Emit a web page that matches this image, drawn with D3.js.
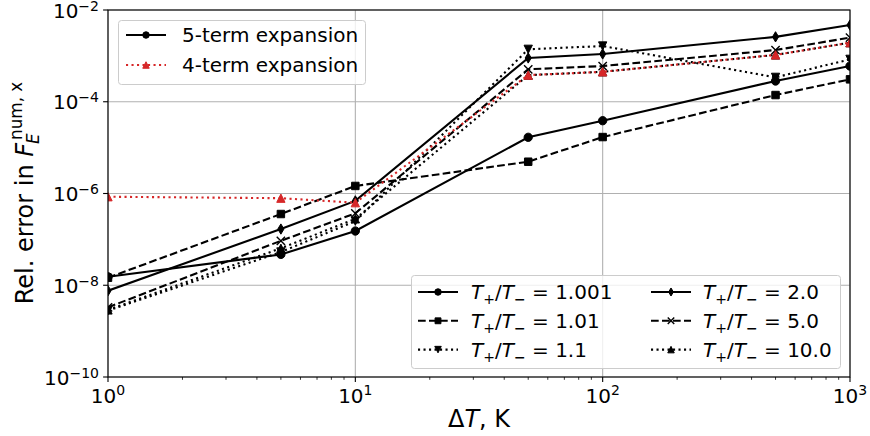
<!DOCTYPE html>
<html>
<head>
<meta charset="utf-8">
<script src="https://cdn.jsdelivr.net/npm/d3@7"></script>
<style>
  html, body { margin: 0; padding: 0; background: #fff; }
  svg { display: block; font-family: "DejaVu Sans", sans-serif; }
</style>
</head>
<body>
<svg id="chart" width="870" height="436"></svg>
<script>
// ---- data ----
const dT = [1, 5, 10, 50, 100, 500, 1000];
const ratioLabels = ["1.001", "1.01", "1.1", "2.0", "5.0", "10.0"];
const err_1001 = [1.53e-8, 4.7e-8, 1.52e-7, 1.68e-5, 3.86e-5, 2.83e-4, 6.0e-4];
const err_101  = [1.46e-8, 3.57e-7, 1.46e-6, 4.93e-6, 1.7e-5, 1.4e-4, 3.08e-4];
const err_11   = [2.8e-9, 5.3e-8, 2.5e-7, 1.39e-3, 1.64e-3, 3.4e-4, 8.4e-4];
const err_2    = [7.6e-9, 1.68e-7, 6.9e-7, 9.0e-4, 1.1e-3, 2.6e-3, 4.7e-3];
const err_5    = [3.3e-9, 9.3e-8, 3.7e-7, 5.1e-4, 6.0e-4, 1.34e-3, 2.5e-3];
const err_10   = [2.9e-9, 6.4e-8, 2.8e-7, 3.8e-4, 4.5e-4, 1.05e-3, 1.94e-3];
const err_4term = [8.5e-7, 7.9e-7, 6.3e-7, 3.8e-4, 4.5e-4, 1.05e-3, 1.94e-3];
const xTickExps = [0, 1, 2, 3];
const yTickExps = [-2, -4, -6, -8, -10];

const series = [
  {label: ratioLabels[0], values: err_1001, dash: null, marker: "o"},
  {label: ratioLabels[1], values: err_101, dash: "dashed", marker: "s"},
  {label: ratioLabels[2], values: err_11, dash: "dotted", marker: "v"},
  {label: ratioLabels[3], values: err_2, dash: null, marker: "d"},
  {label: ratioLabels[4], values: err_5, dash: "dashed", marker: "x"},
  {label: ratioLabels[5], values: err_10, dash: "dotted", marker: "^"}
];
const red = "#d62728";

// ---- layout ----
const L = 108, R = 850, T = 10, B = 377;
const svg = d3.select("#chart");
const x = d3.scaleLog().domain([1, 1000]).range([L, R]);
const y = d3.scaleLog().domain([1e-10, 1e-2]).range([B, T]);

const dashMap = {dashed: "7.7,3.3", dotted: "2.1,3.4"};

function markerPath(type, s) {
  const h = s / 2;
  switch (type) {
    case "o": return d3.symbol(d3.symbolCircle, Math.PI * h * h)();
    case "s": { const a = s * 0.45; return `M${-a},${-a}H${a}V${a}H${-a}Z`; }
    case "^": return `M0,${-h}L${h},${h}L${-h},${h}Z`;
    case "v": return `M0,${h}L${h},${-h}L${-h},${-h}Z`;
    case "d": { const hh = s * 0.62, ww = s * 0.37; return `M0,${-hh}L${ww},0L0,${hh}L${-ww},0Z`; }
    case "x": return `M${-h},${-h}L${h},${h}M${-h},${h}L${h},${-h}`;
  }
}
function drawMarker(g, type, cx, cy, s, color) {
  g.append("path")
    .attr("d", markerPath(type, s))
    .attr("transform", `translate(${cx},${cy})`)
    .attr("fill", type === "x" ? "none" : color)
    .attr("stroke", color)
    .attr("stroke-width", type === "x" ? 1.4 : 1);
}

// clip
svg.append("defs").append("clipPath").attr("id", "clip")
  .append("rect").attr("x", L).attr("y", T).attr("width", R - L).attr("height", B - T);

// grid
const grid = svg.append("g");
xTickExps.forEach(e => {
  grid.append("line").attr("x1", x(10 ** e)).attr("x2", x(10 ** e)).attr("y1", T).attr("y2", B)
    .attr("stroke", "#b0b0b0").attr("stroke-width", 1.1);
});
yTickExps.forEach(e => {
  grid.append("line").attr("y1", y(10 ** e)).attr("y2", y(10 ** e)).attr("x1", L).attr("x2", R)
    .attr("stroke", "#b0b0b0").attr("stroke-width", 1.1);
});

// lines
const plot = svg.append("g").attr("clip-path", "url(#clip)");
const line = d3.line().x((d, i) => x(dT[i])).y(d => y(d));
function drawSeries(vals, color, dash, marker) {
  plot.append("path").datum(vals).attr("d", line)
    .attr("fill", "none").attr("stroke", color).attr("stroke-width", 2.1)
    .attr("stroke-dasharray", dash ? dashMap[dash] : null);
  vals.forEach((v, i) => drawMarker(plot, marker, x(dT[i]), y(v), 8.3, color));
}
series.forEach(s => drawSeries(s.values, "#000", s.dash, s.marker));
drawSeries(err_4term, red, "dotted", "^");

// axes
const axG = svg.append("g");
axG.append("rect").attr("x", L).attr("y", T).attr("width", R - L).attr("height", B - T)
  .attr("fill", "none").attr("stroke", "#000").attr("stroke-width", 1.1);
// x ticks
const minors = [];
for (let e = 0; e < 3; e++) for (let k = 2; k <= 9; k++) minors.push(k * 10 ** e);
minors.forEach(v => axG.append("line").attr("x1", x(v)).attr("x2", x(v)).attr("y1", B).attr("y2", B + 2.8)
  .attr("stroke", "#000").attr("stroke-width", 0.8));
xTickExps.forEach(e => {
  const px = x(10 ** e);
  axG.append("line").attr("x1", px).attr("x2", px).attr("y1", B).attr("y2", B + 4.9)
    .attr("stroke", "#000").attr("stroke-width", 1.1);
  const t = axG.append("text").attr("x", px).attr("y", 403).attr("text-anchor", "middle")
    .attr("font-size", 20).attr("fill", "#000");
  t.append("tspan").text("10");
  t.append("tspan").attr("font-size", 14).attr("dy", -8).text(String(e));
});
yTickExps.forEach(e => {
  const py = y(10 ** e);
  axG.append("line").attr("x1", L - 4.9).attr("x2", L).attr("y1", py).attr("y2", py)
    .attr("stroke", "#000").attr("stroke-width", 1.1);
  const t = axG.append("text").attr("x", 99).attr("y", py + 7.5).attr("text-anchor", "end")
    .attr("font-size", 20).attr("fill", "#000");
  t.append("tspan").text("10");
  t.append("tspan").attr("font-size", 14).attr("dy", -7).text("\u2212" + Math.abs(e));
});

// x label
const xl = svg.append("text").attr("x", (L + R) / 2).attr("y", 427).attr("text-anchor", "middle")
  .attr("font-size", 24).attr("fill", "#000");
xl.append("tspan").text("\u0394");
xl.append("tspan").attr("font-style", "italic").text("T");
xl.append("tspan").text(", K");

// y label (rotated)
const yl = svg.append("g").attr("transform", `translate(33,${(T + B) / 2}) rotate(-90)`);
const ylMain = yl.append("text").attr("font-size", 24).attr("fill", "#000");
ylMain.append("tspan").text("Rel. error in ");
ylMain.append("tspan").attr("font-style", "italic").text("F");
const wMain = ylMain.node().getComputedTextLength();
const ylSup = yl.append("text").attr("font-size", 16.8).attr("fill", "#000").text("num, x");
const ylSub = yl.append("text").attr("font-size", 16.8).attr("font-style", "italic").attr("fill", "#000").text("E");
const wSup = ylSup.node().getComputedTextLength();
const total = wMain + 2 + wSup;
const x0 = -total / 2;
ylMain.attr("x", x0).attr("y", 0);
ylSup.attr("x", x0 + wMain + 3).attr("y", -11);
ylSub.attr("x", x0 + wMain - 1).attr("y", 6);

// legends
function legendFrame(x0, y0, w, h) {
  svg.append("rect").attr("x", x0).attr("y", y0).attr("width", w).attr("height", h)
    .attr("rx", 3).attr("fill", "#fff").attr("fill-opacity", 0.8)
    .attr("stroke", "#cccccc").attr("stroke-width", 1);
}
function legendHandle(hx, hy, color, dash, marker) {
  const g = svg.append("g");
  g.append("line").attr("x1", hx).attr("x2", hx + 40).attr("y1", hy).attr("y2", hy)
    .attr("stroke", color).attr("stroke-width", 2.1)
    .attr("stroke-dasharray", dash ? dashMap[dash] : null);
  drawMarker(g, marker, hx + 20, hy, 6.5, color);
}

// legend 1
legendFrame(118.5, 20.5, 247, 64);
legendHandle(126, 35, "#000", null, "o");
svg.append("text").attr("x", 182).attr("y", 42).attr("font-size", 20).attr("fill", "#000").text("5-term expansion");
legendHandle(126, 65, red, "dotted", "^");
svg.append("text").attr("x", 182).attr("y", 72).attr("font-size", 20).attr("fill", "#000").text("4-term expansion");

// legend 2
legendFrame(411.5, 275.5, 429, 93);
series.forEach((s, i) => {
  const col = Math.floor(i / 3), row = i % 3;
  const hx = col === 0 ? 418 : 651;
  const tx = col === 0 ? 471 : 703;
  const hy = 292 + row * 28.8;
  legendHandle(hx, hy, "#000", s.dash, s.marker);
  const t = svg.append("text").attr("x", tx).attr("y", hy + 7).attr("font-size", 20).attr("fill", "#000");
  t.append("tspan").attr("font-style", "italic").text("T");
  t.append("tspan").attr("font-size", 14).attr("dy", 5).text("+");
  t.append("tspan").attr("dy", -5).text("/");
  t.append("tspan").attr("font-style", "italic").text("T");
  t.append("tspan").attr("font-size", 14).attr("dy", 5).attr("font-weight", "bold").text("\u2212");
  t.append("tspan").attr("dy", -5).text(" = " + s.label);
});
</script>
</body>
</html>
